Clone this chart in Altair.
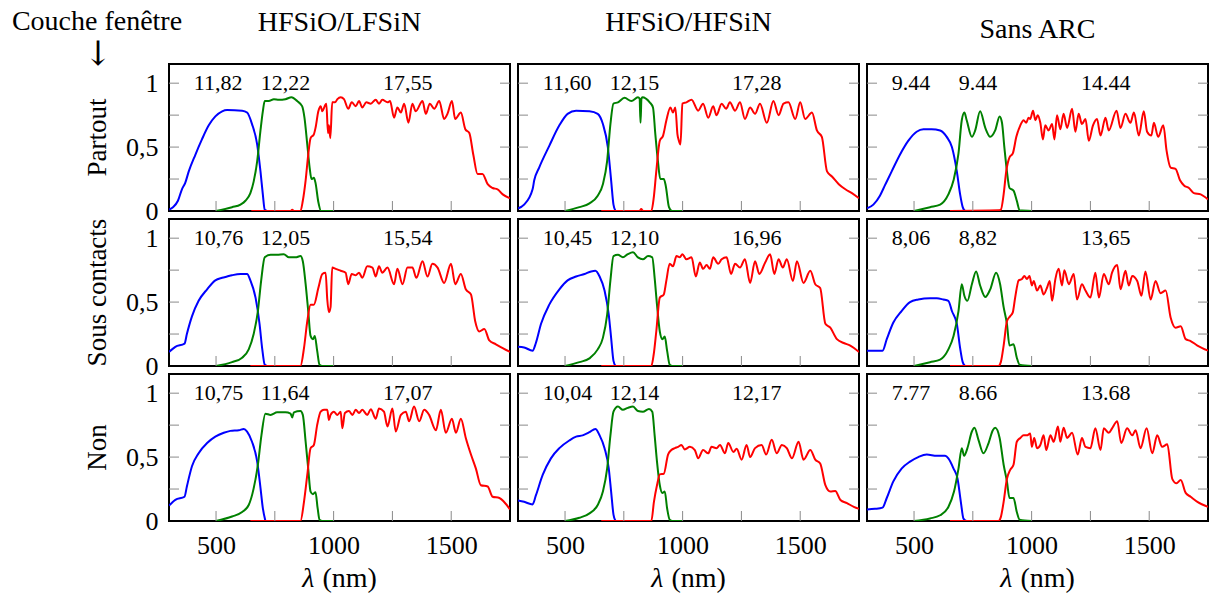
import altair as alt
import pandas as pd

SERIF = "Liberation Serif, DejaVu Serif, serif"

# ---------------- texts ----------------
COL_TITLES = ["HFSiO/LFSiN", "HFSiO/HFSiN", "Sans ARC"]
ROW_TITLES = ["Partout", "Sous contacts", "Non"]
CORNER_TITLE = ["Couche fenêtre"]
CORNER_ARROW = ["↓"]
XLABEL_SYMBOL = ["λ"]
XLABEL_UNIT = ["(nm)"]

# ---------------- axes ----------------
X_DOMAIN = [300, 1750]
Y_DOMAIN = [0, 1.15]
X_LABELS = [500, 1000, 1500]
Y_LABELS = [0, 0.5, 1]
X_TICKS = [500, 750, 1000, 1250, 1500]
Y_TICKS = [0.25, 0.5, 0.75, 1.0]

SERIES = ["top", "middle", "bottom"]
COLORS = ["#0000ff", "#008000", "#ff0000"]

# annotation anchors (nm) and level
LABEL_NM = [405, 690, 1210]
ANN_Y = 1.0
A11 = ["11,82", "12,22", "17,55"]
A12 = ["11,60", "12,15", "17,28"]
A13 = ["9.44", "9.44", "14.44"]
A21 = ["10,76", "12,05", "15,54"]
A22 = ["10,45", "12,10", "16,96"]
A23 = ["8,06", "8,82", "13,65"]
A31 = ["10,75", "11,64", "17,07"]
A32 = ["10,04", "12,14", "12,17"]
A33 = ["7.77", "8.66", "13.68"]

# ---------------- blue (top cell) ----------------
B11_NM = [300, 317, 338, 355, 369, 384, 412, 440, 469, 497, 526, 547, 611, 632, 653, 675, 689, 699, 707, 717]
B11_V = [0.01, 0.03, 0.08, 0.17, 0.22, 0.31, 0.44, 0.56, 0.67, 0.74, 0.78, 0.79, 0.785, 0.77, 0.68, 0.52, 0.31, 0.13, 0.01, 0.0]
B12_NM = [300, 326, 362, 369, 390, 433, 476, 511, 547, 604, 639, 661, 682, 696, 706, 715]
B12_V = [0.02, 0.05, 0.17, 0.24, 0.34, 0.51, 0.67, 0.76, 0.785, 0.78, 0.76, 0.68, 0.50, 0.24, 0.05, 0.0]
B13_NM = [300, 327, 355, 376, 405, 440, 476, 511, 540, 575, 611, 639, 661, 682, 696, 707, 717]
B13_V = [0.02, 0.05, 0.12, 0.20, 0.31, 0.44, 0.55, 0.62, 0.64, 0.64, 0.63, 0.58, 0.50, 0.31, 0.13, 0.03, 0.0]
B21_NM = [300, 327, 366, 376, 398, 426, 462, 497, 526, 547, 568, 604, 632, 646, 668, 685, 696, 707, 717]
B21_V = [0.11, 0.15, 0.175, 0.25, 0.39, 0.51, 0.60, 0.67, 0.69, 0.70, 0.71, 0.72, 0.72, 0.67, 0.535, 0.33, 0.14, 0.01, 0.0]
B22_NM = [300, 326, 362, 376, 398, 433, 476, 511, 547, 583, 611, 629, 647, 668, 686, 696, 706, 715]
B22_V = [0.15, 0.145, 0.12, 0.18, 0.33, 0.48, 0.60, 0.67, 0.70, 0.72, 0.74, 0.745, 0.70, 0.59, 0.40, 0.22, 0.04, 0.0]
B23_NM = [300, 334, 366, 384, 412, 447, 483, 518, 568, 597, 625, 646, 661, 682, 696, 707, 717]
B23_V = [0.12, 0.12, 0.12, 0.21, 0.34, 0.43, 0.50, 0.52, 0.53, 0.53, 0.52, 0.51, 0.43, 0.33, 0.14, 0.03, 0.0]
B31_NM = [300, 327, 366, 376, 398, 426, 462, 497, 533, 561, 597, 618, 632, 653, 675, 689, 699, 710]
B31_V = [0.12, 0.165, 0.19, 0.27, 0.43, 0.53, 0.61, 0.66, 0.69, 0.705, 0.71, 0.72, 0.70, 0.62, 0.465, 0.26, 0.10, 0.0]
B32_NM = [300, 326, 362, 376, 405, 440, 476, 518, 547, 575, 604, 629, 647, 668, 686, 696, 706, 715]
B32_V = [0.16, 0.15, 0.13, 0.20, 0.36, 0.49, 0.57, 0.63, 0.66, 0.67, 0.695, 0.72, 0.67, 0.57, 0.41, 0.23, 0.05, 0.0]
B33_NM = [300, 334, 366, 384, 412, 447, 483, 518, 554, 597, 632, 646, 668, 685, 699, 710, 722]
B33_V = [0.09, 0.095, 0.105, 0.18, 0.31, 0.41, 0.465, 0.50, 0.52, 0.51, 0.51, 0.49, 0.41, 0.33, 0.15, 0.02, 0.0]

# ---------------- green (middle cell) ----------------
G11_NM = [500, 568, 604, 625, 646, 660, 675, 689, 699, 707, 724, 746, 767, 795, 821, 845, 866, 876, 888, 898, 906, 916, 923, 935, 947, 1000]
G11_V = [0.0, 0.03, 0.05, 0.08, 0.14, 0.23, 0.39, 0.63, 0.78, 0.86, 0.86, 0.875, 0.87, 0.875, 0.89, 0.86, 0.82, 0.73, 0.52, 0.34, 0.25, 0.26, 0.22, 0.07, 0.0, 0.0]
G12_NM = [500, 561, 604, 639, 661, 679, 693, 706, 725, 753, 782, 810, 817, 821, 825, 829, 860, 874, 884, 895, 905, 920, 928, 942, 955, 1000]
G12_V = [0.0, 0.03, 0.06, 0.12, 0.21, 0.39, 0.68, 0.84, 0.85, 0.885, 0.86, 0.89, 0.88, 0.69, 0.88, 0.89, 0.85, 0.81, 0.60, 0.39, 0.25, 0.25, 0.20, 0.03, 0.0, 0.0]
G13_NM = [500, 568, 611, 646, 668, 689, 703, 714, 724, 746, 760, 781, 803, 824, 845, 864, 874, 884, 895, 906, 923, 937, 949, 1000]
G13_V = [0.0, 0.03, 0.05, 0.13, 0.24, 0.45, 0.71, 0.77, 0.71, 0.58, 0.63, 0.78, 0.65, 0.58, 0.63, 0.74, 0.69, 0.50, 0.31, 0.18, 0.16, 0.08, 0.005, 0.0]
G21_NM = [500, 568, 611, 639, 660, 678, 692, 707, 732, 760, 788, 810, 838, 859, 869, 881, 892, 902, 912, 920, 930, 940, 952, 1000]
G21_V = [0.0, 0.03, 0.065, 0.13, 0.25, 0.43, 0.67, 0.85, 0.87, 0.87, 0.875, 0.85, 0.85, 0.86, 0.82, 0.64, 0.43, 0.235, 0.21, 0.235, 0.12, 0.01, 0.0, 0.0]
G22_NM = [500, 561, 604, 639, 661, 679, 693, 706, 725, 746, 767, 789, 810, 831, 853, 871, 881, 891, 903, 914, 924, 934, 945, 957, 1000]
G22_V = [0.0, 0.03, 0.06, 0.13, 0.22, 0.40, 0.67, 0.86, 0.87, 0.85, 0.875, 0.89, 0.85, 0.835, 0.86, 0.85, 0.69, 0.48, 0.27, 0.21, 0.23, 0.12, 0.01, 0.0, 0.0]
G23_NM = [500, 568, 611, 646, 668, 689, 703, 714, 727, 746, 764, 781, 803, 824, 849, 866, 881, 895, 906, 923, 937, 949, 1000]
G23_V = [0.0, 0.03, 0.05, 0.13, 0.235, 0.43, 0.64, 0.55, 0.51, 0.64, 0.74, 0.63, 0.54, 0.60, 0.73, 0.64, 0.46, 0.33, 0.16, 0.17, 0.065, 0.01, 0.0]
G31_NM = [500, 568, 611, 639, 660, 678, 693, 710, 732, 760, 795, 817, 824, 831, 859, 869, 881, 892, 902, 912, 923, 932, 940, 952, 1000]
G31_V = [0.0, 0.035, 0.07, 0.125, 0.255, 0.44, 0.67, 0.84, 0.83, 0.85, 0.85, 0.84, 0.81, 0.85, 0.86, 0.83, 0.62, 0.41, 0.23, 0.21, 0.225, 0.10, 0.01, 0.0, 0.0]
G32_NM = [500, 561, 604, 639, 661, 679, 693, 706, 725, 746, 767, 789, 810, 831, 857, 871, 881, 891, 903, 914, 924, 934, 945, 957, 1000]
G32_V = [0.0, 0.025, 0.06, 0.125, 0.23, 0.41, 0.67, 0.855, 0.895, 0.87, 0.885, 0.895, 0.86, 0.855, 0.877, 0.855, 0.67, 0.465, 0.28, 0.22, 0.23, 0.10, 0.01, 0.0, 0.0]
G33_NM = [500, 568, 611, 646, 670, 689, 703, 713, 727, 746, 757, 774, 795, 817, 835, 845, 864, 881, 895, 906, 923, 937, 949, 1000]
G33_V = [0.0, 0.02, 0.045, 0.11, 0.23, 0.41, 0.57, 0.51, 0.57, 0.70, 0.73, 0.635, 0.53, 0.61, 0.71, 0.73, 0.65, 0.44, 0.31, 0.18, 0.18, 0.07, 0.01, 0.0]

# ---------------- red (bottom cell) ----------------
R11_NM = [650, 817, 824, 832, 859, 869, 881, 892, 902, 916, 923, 935, 945, 952, 962, 969, 976, 980, 986, 994, 1006, 1016, 1030, 1044, 1062, 1077, 1094, 1108, 1122, 1139, 1158, 1179, 1193, 1207, 1229, 1240, 1257, 1271, 1286, 1300, 1318, 1335, 1349, 1378, 1392, 1409, 1428, 1449, 1470, 1484, 1503, 1517, 1541, 1560, 1577, 1594, 1612, 1633, 1655, 1676, 1697, 1719, 1750]
R11_V = [0.0, 0.0, 0.01, 0.0, 0.0, 0.08, 0.24, 0.44, 0.57, 0.60, 0.65, 0.78, 0.82, 0.78, 0.82, 0.84, 0.61, 0.67, 0.57, 0.85, 0.85, 0.875, 0.89, 0.875, 0.80, 0.85, 0.82, 0.86, 0.81, 0.85, 0.84, 0.87, 0.84, 0.87, 0.85, 0.86, 0.73, 0.81, 0.77, 0.84, 0.69, 0.84, 0.78, 0.86, 0.76, 0.84, 0.80, 0.86, 0.72, 0.76, 0.86, 0.72, 0.77, 0.64, 0.61, 0.44, 0.29, 0.29, 0.21, 0.18, 0.17, 0.13, 0.10]
R12_NM = [654, 817, 824, 832, 867, 877, 888, 903, 917, 931, 948, 959, 969, 978, 984, 991, 999, 1016, 1038, 1066, 1087, 1109, 1130, 1144, 1166, 1185, 1201, 1223, 1244, 1265, 1287, 1308, 1329, 1358, 1386, 1408, 1429, 1450, 1479, 1500, 1521, 1550, 1571, 1592, 1614, 1635, 1664, 1692, 1720, 1750]
R12_V = [0.0, 0.0, 0.015, 0.0, 0.0, 0.10, 0.31, 0.55, 0.59, 0.71, 0.81, 0.77, 0.81, 0.60, 0.55, 0.52, 0.84, 0.85, 0.87, 0.785, 0.84, 0.73, 0.82, 0.75, 0.84, 0.80, 0.85, 0.785, 0.85, 0.72, 0.81, 0.76, 0.84, 0.69, 0.86, 0.75, 0.84, 0.85, 0.72, 0.85, 0.72, 0.77, 0.63, 0.58, 0.31, 0.27, 0.21, 0.17, 0.14, 0.10]
R13_NM = [653, 859, 869, 881, 892, 906, 920, 935, 952, 966, 977, 987, 994, 1006, 1016, 1026, 1037, 1048, 1058, 1072, 1087, 1097, 1108, 1122, 1136, 1151, 1172, 1186, 1200, 1214, 1229, 1243, 1261, 1278, 1293, 1314, 1328, 1361, 1378, 1399, 1420, 1435, 1456, 1477, 1491, 1509, 1520, 1538, 1560, 1574, 1591, 1612, 1631, 1648, 1669, 1690, 1719, 1750]
R13_V = [0.0, 0.005, 0.01, 0.13, 0.31, 0.42, 0.45, 0.58, 0.67, 0.71, 0.69, 0.73, 0.72, 0.785, 0.71, 0.75, 0.69, 0.56, 0.67, 0.63, 0.68, 0.56, 0.75, 0.64, 0.76, 0.65, 0.80, 0.62, 0.76, 0.68, 0.72, 0.55, 0.67, 0.72, 0.59, 0.73, 0.63, 0.785, 0.65, 0.76, 0.69, 0.77, 0.59, 0.78, 0.62, 0.59, 0.69, 0.58, 0.67, 0.47, 0.34, 0.33, 0.24, 0.20, 0.18, 0.14, 0.13, 0.09]
R21_NM = [646, 859, 874, 888, 902, 916, 935, 952, 966, 973, 980, 987, 994, 1009, 1030, 1051, 1062, 1077, 1094, 1108, 1122, 1143, 1165, 1179, 1193, 1207, 1229, 1257, 1271, 1293, 1314, 1335, 1352, 1378, 1399, 1420, 1442, 1470, 1499, 1517, 1541, 1562, 1584, 1602, 1619, 1641, 1662, 1690, 1719, 1750]
R21_V = [0.0, 0.0, 0.14, 0.35, 0.48, 0.48, 0.61, 0.72, 0.73, 0.52, 0.42, 0.46, 0.77, 0.76, 0.745, 0.73, 0.64, 0.72, 0.71, 0.73, 0.69, 0.78, 0.77, 0.70, 0.78, 0.73, 0.77, 0.64, 0.76, 0.64, 0.77, 0.77, 0.69, 0.82, 0.70, 0.80, 0.77, 0.65, 0.80, 0.64, 0.72, 0.60, 0.56, 0.35, 0.27, 0.29, 0.20, 0.17, 0.14, 0.11]
R22_NM = [654, 867, 877, 888, 903, 920, 931, 945, 959, 974, 988, 999, 1016, 1038, 1056, 1073, 1087, 1102, 1116, 1130, 1151, 1166, 1187, 1206, 1223, 1244, 1265, 1287, 1308, 1326, 1351, 1372, 1390, 1408, 1426, 1443, 1469, 1486, 1514, 1543, 1564, 1585, 1607, 1628, 1656, 1685, 1713, 1750]
R22_V = [0.0, 0.0, 0.09, 0.27, 0.535, 0.56, 0.67, 0.80, 0.78, 0.86, 0.85, 0.875, 0.835, 0.85, 0.70, 0.81, 0.76, 0.79, 0.76, 0.85, 0.80, 0.835, 0.85, 0.72, 0.80, 0.77, 0.835, 0.65, 0.82, 0.72, 0.81, 0.875, 0.72, 0.835, 0.77, 0.835, 0.665, 0.82, 0.65, 0.745, 0.64, 0.61, 0.33, 0.30, 0.21, 0.18, 0.16, 0.11]
R23_NM = [653, 859, 869, 881, 895, 909, 920, 930, 945, 959, 969, 980, 991, 1001, 1009, 1023, 1037, 1051, 1065, 1077, 1087, 1101, 1115, 1129, 1139, 1158, 1179, 1193, 1214, 1229, 1250, 1271, 1286, 1307, 1328, 1342, 1364, 1378, 1399, 1413, 1428, 1449, 1467, 1484, 1506, 1527, 1548, 1570, 1591, 1612, 1634, 1655, 1676, 1705, 1750]
R23_V = [0.0, 0.0, 0.03, 0.16, 0.35, 0.39, 0.42, 0.535, 0.67, 0.68, 0.705, 0.68, 0.705, 0.63, 0.665, 0.59, 0.63, 0.56, 0.61, 0.665, 0.51, 0.68, 0.76, 0.63, 0.75, 0.64, 0.72, 0.52, 0.64, 0.59, 0.535, 0.73, 0.535, 0.72, 0.64, 0.73, 0.79, 0.60, 0.745, 0.63, 0.705, 0.665, 0.55, 0.74, 0.52, 0.665, 0.57, 0.59, 0.38, 0.30, 0.31, 0.21, 0.195, 0.16, 0.12]
R31_NM = [646, 859, 874, 888, 902, 916, 930, 945, 959, 973, 980, 987, 1001, 1016, 1030, 1037, 1048, 1065, 1080, 1094, 1108, 1122, 1143, 1158, 1179, 1193, 1214, 1229, 1250, 1264, 1286, 1307, 1321, 1342, 1364, 1385, 1406, 1435, 1456, 1477, 1503, 1520, 1541, 1562, 1584, 1605, 1626, 1655, 1676, 1705, 1750]
R31_V = [0.0, 0.0, 0.15, 0.36, 0.57, 0.595, 0.75, 0.855, 0.87, 0.87, 0.79, 0.83, 0.855, 0.83, 0.855, 0.725, 0.845, 0.86, 0.83, 0.87, 0.845, 0.87, 0.83, 0.875, 0.80, 0.88, 0.855, 0.74, 0.88, 0.70, 0.83, 0.855, 0.78, 0.895, 0.78, 0.87, 0.83, 0.71, 0.87, 0.69, 0.80, 0.69, 0.80, 0.65, 0.52, 0.41, 0.28, 0.27, 0.19, 0.18, 0.09]
R32_NM = [654, 867, 878, 891, 903, 920, 938, 952, 967, 981, 995, 1009, 1031, 1052, 1066, 1087, 1109, 1123, 1144, 1159, 1180, 1194, 1216, 1230, 1251, 1272, 1287, 1308, 1336, 1355, 1379, 1400, 1422, 1443, 1465, 1493, 1514, 1543, 1564, 1585, 1607, 1628, 1649, 1671, 1699, 1728, 1750]
R32_V = [0.0, 0.0, 0.15, 0.28, 0.365, 0.37, 0.52, 0.555, 0.57, 0.58, 0.595, 0.56, 0.58, 0.555, 0.49, 0.555, 0.53, 0.58, 0.57, 0.595, 0.53, 0.61, 0.54, 0.565, 0.48, 0.595, 0.50, 0.57, 0.595, 0.52, 0.635, 0.53, 0.595, 0.57, 0.49, 0.62, 0.48, 0.555, 0.48, 0.45, 0.28, 0.23, 0.235, 0.165, 0.14, 0.11, 0.095]
R33_NM = [653, 859, 869, 881, 895, 909, 923, 937, 952, 966, 980, 994, 1001, 1011, 1023, 1037, 1051, 1062, 1080, 1094, 1112, 1122, 1136, 1151, 1172, 1196, 1214, 1229, 1250, 1271, 1293, 1307, 1328, 1342, 1364, 1381, 1406, 1428, 1442, 1463, 1489, 1513, 1534, 1555, 1577, 1598, 1616, 1634, 1655, 1676, 1705, 1750]
R33_V = [0.0, 0.0, 0.03, 0.15, 0.33, 0.40, 0.44, 0.62, 0.65, 0.67, 0.67, 0.685, 0.58, 0.65, 0.57, 0.595, 0.67, 0.555, 0.67, 0.62, 0.74, 0.62, 0.73, 0.65, 0.69, 0.52, 0.65, 0.58, 0.57, 0.725, 0.555, 0.725, 0.69, 0.725, 0.78, 0.61, 0.725, 0.67, 0.71, 0.57, 0.725, 0.53, 0.67, 0.58, 0.60, 0.33, 0.295, 0.32, 0.22, 0.19, 0.15, 0.11]

BLUE = [[(B11_NM, B11_V), (B12_NM, B12_V), (B13_NM, B13_V)],
        [(B21_NM, B21_V), (B22_NM, B22_V), (B23_NM, B23_V)],
        [(B31_NM, B31_V), (B32_NM, B32_V), (B33_NM, B33_V)]]
GREEN = [[(G11_NM, G11_V), (G12_NM, G12_V), (G13_NM, G13_V)],
         [(G21_NM, G21_V), (G22_NM, G22_V), (G23_NM, G23_V)],
         [(G31_NM, G31_V), (G32_NM, G32_V), (G33_NM, G33_V)]]
RED = [[(R11_NM, R11_V), (R12_NM, R12_V), (R13_NM, R13_V)],
       [(R21_NM, R21_V), (R22_NM, R22_V), (R23_NM, R23_V)],
       [(R31_NM, R31_V), (R32_NM, R32_V), (R33_NM, R33_V)]]
ANN = [[A11, A12, A13], [A21, A22, A23], [A31, A32, A33]]

# ---------------- layout / style ----------------
W, H = 341, 147
TICK_LEN = 10
TICK_COLOR = "#8a8a8a"
TITLE_BASELINE = [-33.5, -33.5, -26.5]

xs = alt.Scale(domain=X_DOMAIN, nice=False, zero=False)
ys = alt.Scale(domain=Y_DOMAIN, nice=False, zero=False)


def text_layer(label, **kw):
    df = pd.DataFrame({"label": label})
    enc = {k: v for k, v in kw.items() if k in ("x", "y")}
    mk = {k: v for k, v in kw.items() if k not in ("x", "y")}
    mk.setdefault("font", SERIF)
    mk.setdefault("color", "black")
    return alt.Chart(df).mark_text(**mk).encode(text="label:N", **enc)


def panel(r, c):
    parts = []
    for s, (nm, v) in zip(SERIES, [BLUE[r][c], GREEN[r][c], RED[r][c]]):
        parts.append(pd.DataFrame({"nm": nm, "v": v, "s": s}))
    df = pd.concat(parts, ignore_index=True)

    if r == 2:
        xaxis = alt.Axis(values=X_LABELS, format="d", title=None, grid=False, ticks=False,
                         tickSize=0, domain=False, labelFont=SERIF, labelFontSize=26,
                         labelPadding=11, labelColor="black", labelFlush=False)
    else:
        xaxis = None
    if c == 0:
        yaxis = alt.Axis(values=Y_LABELS, title=None, grid=False, ticks=False, tickSize=0,
                         domain=False, labelFont=SERIF, labelFontSize=26, labelPadding=11,
                         labelColor="black", labelFlush=False,
                         labelExpr="replace(format(datum.value, '~g'), '.', ',')")
    else:
        yaxis = None

    lines = alt.Chart(df).mark_line(strokeWidth=2, interpolate="monotone", clip=True).encode(
        x=alt.X("nm:Q", scale=xs, axis=xaxis),
        y=alt.Y("v:Q", scale=ys, axis=yaxis),
        color=alt.Color("s:N", scale=alt.Scale(domain=SERIES, range=COLORS), legend=None),
    )

    ytk = pd.DataFrame({"t": Y_TICKS})
    xtk = pd.DataFrame({"t": X_TICKS})
    left = alt.Chart(ytk).mark_rule(color=TICK_COLOR, strokeWidth=1).encode(
        y=alt.Y("t:Q", scale=ys, axis=yaxis), x=alt.value(0), x2=alt.value(TICK_LEN))
    right = alt.Chart(ytk).mark_rule(color=TICK_COLOR, strokeWidth=1).encode(
        y=alt.Y("t:Q", scale=ys, axis=yaxis), x=alt.value(W - TICK_LEN), x2=alt.value(W))
    bottom = alt.Chart(xtk).mark_rule(color=TICK_COLOR, strokeWidth=1).encode(
        x=alt.X("t:Q", scale=xs, axis=xaxis), y=alt.value(H - TICK_LEN), y2=alt.value(H))

    adf = pd.DataFrame({"nm": LABEL_NM, "v": [ANN_Y] * 3, "label": ANN[r][c]})
    ann = alt.Chart(adf).mark_text(align="left", baseline="middle", font=SERIF,
                                   fontSize=22, color="black").encode(
        x=alt.X("nm:Q", scale=xs, axis=xaxis),
        y=alt.Y("v:Q", scale=ys, axis=yaxis),
        text="label:N")

    layers = [lines, bottom, left, right, ann]

    if r == 0:
        layers.append(text_layer([COL_TITLES[c]], x=alt.value(W / 2), y=alt.value(TITLE_BASELINE[c]),
                                 align="center", baseline="alphabetic", fontSize=28))
    if c == 0:
        layers.append(text_layer([ROW_TITLES[r]], x=alt.value(-71), y=alt.value(H / 2),
                                 align="center", baseline="middle", angle=270, fontSize=27))
    if r == 0 and c == 0:
        layers.append(text_layer(CORNER_TITLE, x=alt.value(-72), y=alt.value(-34.5),
                                 align="center", baseline="alphabetic", fontSize=28))
        layers.append(text_layer(CORNER_ARROW, x=alt.value(-71), y=alt.value(-9),
                                 align="center", baseline="middle", fontSize=34,
                                 font="DejaVu Serif, serif"))
    if r == 2:
        layers.append(text_layer(XLABEL_SYMBOL, x=alt.value(W / 2 - 25), y=alt.value(213),
                                 align="right", baseline="alphabetic", fontSize=28,
                                 fontStyle="italic"))
        layers.append(text_layer(XLABEL_UNIT, x=alt.value(W / 2 - 17), y=alt.value(213),
                                 align="left", baseline="alphabetic", fontSize=28))

    return alt.layer(*layers).properties(width=W, height=H)


panels = [panel(r, c) for r in range(3) for c in range(3)]

chart = alt.concat(*panels, columns=3, spacing=8, bounds="flush").properties(
    autosize=alt.AutoSizeParams(type="none"),
    padding={"left": 169, "top": 64, "right": 1040, "bottom": 534},
).configure_view(stroke="black", strokeWidth=2)

chart.save("out.html", embed_options={"renderer": "svg", "actions": False})
